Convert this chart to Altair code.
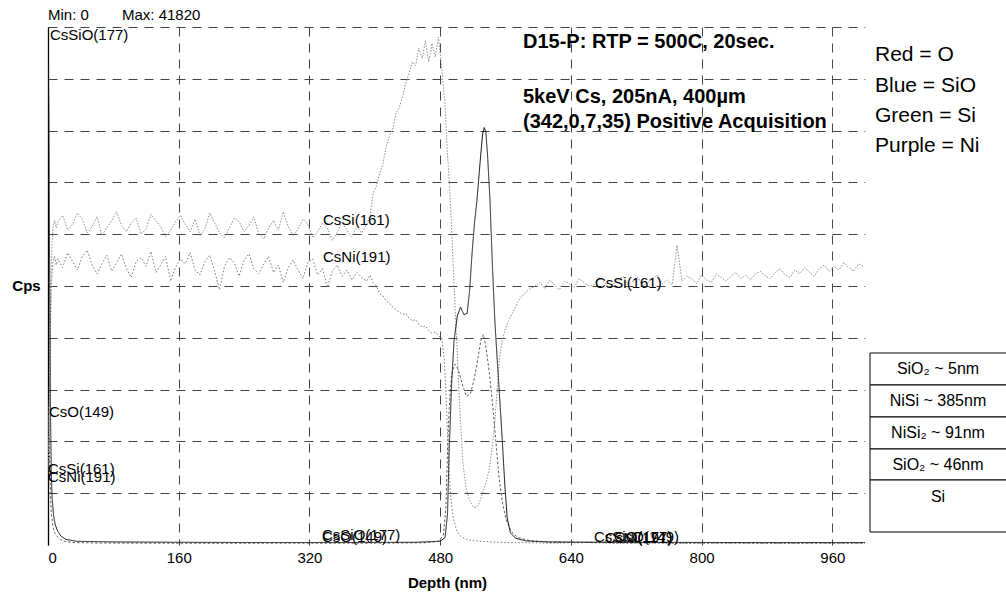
import altair as alt
import pandas as pd

FONT = "Liberation Sans"
Y_MAX = 41820
W, H = 817, 518
LEFT, TOP = 48, 27

# ---------------- depth grids (nm) ----------------
surf_depth = [0, 1, 2, 3, 4, 5, 6, 8, 10]
nisi_depth = list(range(12, 391, 6))        # NiSi layer cycles
nisi2_depth = list(range(394, 483, 4))      # NiSi2 layer cycles
sub_depth = list(range(596, 999, 6))        # Si substrate cycles

# ---------------- CsSi(161) ----------------
cssi_surf = [6000, 9000, 14000, 19000, 22500, 24500, 25600, 26200, 25600]
cssi_nisi = [26100, 26600, 25400, 25900, 26800, 26300, 25200, 25700, 26500, 25000,
             25600, 26200, 26900, 25800, 25300, 26000, 26400, 25100, 25500, 26700,
             26200, 25700, 24900, 25400, 26100, 26600, 25900, 25300, 26300, 25000,
             25500, 26800, 26000, 25200, 24800, 25600, 26400, 26100, 25300, 25800,
             26500, 25100, 24700, 25600, 26200, 25400, 26900, 25700, 25000, 25500,
             26300, 25900, 24800, 25300, 26000, 25600, 24600, 25200, 26100, 25400,
             24900, 25700, 25200, 25900]
cssi_nisi2 = [26500, 28400, 29000, 30000, 30800, 32200, 33000, 33600, 34900, 35300,
              36200, 37300, 38100, 39000, 38700, 40100, 39300, 40700, 39000, 40500,
              39400, 41000, 38500]
cssi_ox_depth = [486, 489, 492, 495, 498, 501, 504, 508, 512, 516, 520, 524, 528, 532,
                 536, 540, 544, 547, 550, 553, 556, 560, 565, 570, 575, 580, 585, 590]
cssi_ox = [35500, 31500, 28500, 24000, 19500, 15500, 11000, 6500, 4500, 3600, 3100, 3000,
           3400, 4200, 5000, 6100, 8000, 10000, 12800, 15300, 16500, 17500, 18300, 18900,
           19600, 20100, 20400, 20700]
cssi_sub = [20900, 21200, 20700, 21400, 21000, 20600, 21300, 21100, 20800, 21500,
            21200, 20900, 21000, 21600, 21300, 20800, 21100, 21400, 21700, 21000,
            21300, 21600, 20900, 21200, 21500, 21800, 21100, 21400, 21000, 24200,
            21300, 21700, 21500, 21100, 21800, 21400, 21200, 21900, 21600, 21300,
            21700, 22000, 21500, 21800, 21400, 21900, 22100, 21700, 21500, 22000,
            22300, 21800, 21600, 22200, 21900, 22400, 22000, 21700, 22300, 22600,
            22100, 22500, 22200, 22800, 22400, 22100, 22700, 22500]

# ---------------- CsNi(191) ----------------
csni_surf = [5800, 8500, 13000, 17500, 20500, 22000, 22800, 23300, 22600]
csni_nisi = [23100, 22400, 23600, 22900, 22200, 23300, 23800, 22600, 21900, 22700,
             23400, 22100, 22800, 23500, 22300, 21600, 22900, 23200, 22500, 23700,
             22000, 22600, 23300, 21300, 22400, 23100, 22700, 23600, 22200, 21800,
             22900, 23400, 22100, 20600, 22500, 23200, 22800, 21700, 23000, 23500,
             22300, 21900, 22700, 23300, 22000, 22600, 21200, 22400, 23000, 22200,
             21500, 22800, 23100, 21800, 22300, 20800, 22100, 22600, 21700, 22200,
             21400, 22000, 21600, 21300]
csni_nisi2 = [21800, 21200, 20900, 20300, 20100, 19700, 19500, 19200, 19000, 18800,
              18600, 18700, 18300, 18100, 18200, 17800, 17600, 17700, 17300, 17100,
              17200, 16900, 16700]
csni_tail_depth = [485, 487, 489, 491, 493, 496, 500, 505, 512, 520, 530, 545, 560,
                   580, 620, 660, 700, 740, 780, 820, 860, 900, 940, 980, 1000]
csni_tail = [15000, 12500, 9000, 6000, 3800, 2200, 1200, 700, 450, 350, 300, 250, 200,
             180, 150, 200, 140, 170, 130, 160, 150, 120, 170, 140, 160]

# ---------------- CsO(149) ----------------
cso_depth = [0, 1, 2, 3, 4, 6, 8, 11, 15, 20, 30, 60, 120, 200, 300, 400, 460, 478, 484,
             487, 489, 491, 494, 498, 502, 507, 512, 517, 522, 526, 530, 533, 536, 540,
             544, 548, 552, 556, 561, 567, 575, 590, 620, 700, 800, 900, 1000]
cso = [11200, 9800, 7000, 4200, 2600, 1500, 1000, 700, 450, 300, 200, 160, 150, 140, 150,
       150, 180, 300, 800, 3000, 7500, 11000, 13800, 14600, 14200, 13000, 12000, 12200,
       13500, 15000, 16600, 17000, 16000, 14000, 11500, 8500, 5500, 3500, 2000, 1100, 600,
       350, 220, 180, 160, 150, 150]

# ---------------- CsSiO(177) ----------------
cssio_depth = [0, 1, 2, 3, 4, 5, 7, 9, 12, 16, 22, 35, 80, 160, 250, 350, 450, 480, 486,
               489, 491, 494, 497, 501, 505, 509, 513, 516, 519, 522, 525, 529, 532, 534,
               536, 538, 541, 544, 547, 550, 553, 556, 559, 562, 566, 572, 585, 610, 700,
               850, 1000]
cssio = [41700, 35000, 22000, 11000, 6000, 3800, 2300, 1600, 1100, 700, 450, 300, 250,
         220, 200, 200, 220, 300, 600, 2500, 7500, 13000, 16500, 18500, 19200, 18600,
         18700, 20500, 23500, 26000, 27800, 31000, 33200, 33700, 33300, 31500, 27800,
         22500, 18000, 14800, 11700, 8500, 5000, 2200, 1000, 550, 330, 250, 220, 200, 200]

species = ["CsSi(161)", "CsNi(191)", "CsO(149)", "CsSiO(177)"]


def series(name, depth, values):
    return pd.DataFrame({"species": name, "depth": depth, "cps": values})


profile = pd.concat([
    series("CsSi(161)", surf_depth + nisi_depth + nisi2_depth + cssi_ox_depth + sub_depth,
           cssi_surf + cssi_nisi + cssi_nisi2 + cssi_ox + cssi_sub),
    series("CsNi(191)", surf_depth + nisi_depth + nisi2_depth + csni_tail_depth,
           csni_surf + csni_nisi + csni_nisi2 + csni_tail),
    series("CsO(149)", cso_depth, cso),
    series("CsSiO(177)", cssio_depth, cssio),
], ignore_index=True)

grid_style = dict(grid=True, gridDash=[9, 7], gridColor="#444444", gridWidth=1)

curves = alt.Chart(profile).mark_line(strokeWidth=1, clip=True).encode(
    x=alt.X("depth:Q",
            scale=alt.Scale(domain=[0, 1000], nice=False, zero=True),
            axis=alt.Axis(values=[0, 160, 320, 480, 640, 800, 960], title="Depth (nm)",
                          ticks=False, domain=False, labelFontSize=15, labelPadding=5,
                          labelFont=FONT, labelColor="black", titleFont=FONT,
                          titleFontSize=15, titleFontWeight="bold", titleColor="black",
                          titleX=399, titleY=37, titleBaseline="middle",
                          titleAnchor="start", titleAlign="center", **grid_style)),
    y=alt.Y("cps:Q",
            scale=alt.Scale(domain=[0, Y_MAX], nice=False),
            axis=alt.Axis(values=[4182 * i for i in range(1, 11)], labels=False,
                          ticks=False, domain=True, domainColor="black", domainWidth=1.3,
                          title="Cps", titleAngle=0, titleX=-22, titleY=258,
                          titleAlign="center", titleBaseline="middle", titleFont=FONT,
                          titleFontSize=15, titleFontWeight="bold", titleColor="black",
                          **grid_style)),
    color=alt.Color("species:N", legend=None,
                    scale=alt.Scale(domain=species,
                                    range=["#909090", "#787878", "#5e5e5e", "#111111"])),
    strokeDash=alt.StrokeDash("species:N", legend=None,
                              scale=alt.Scale(domain=species,
                                              range=[[1.5, 1.5], [1.5, 2], [2.5, 2], [1, 0]])),
    detail="species:N",
)

anchor = pd.DataFrame({"n": [0]})


def note(text, px, py, size=15, weight="normal", align="left"):
    return alt.Chart(anchor).mark_text(
        text=text, font=FONT, fontSize=size, fontWeight=weight, align=align,
        baseline="middle", color="black"
    ).encode(x=alt.value(px - LEFT), y=alt.value(py - TOP))


def cell(px1, py1, px2, py2):
    return alt.Chart(anchor).mark_rect(fill="white", stroke="black", strokeWidth=1).encode(
        x=alt.value(px1 - LEFT), x2=alt.value(px2 - LEFT),
        y=alt.value(py1 - TOP), y2=alt.value(py2 - TOP))


labels = [
    note("Min: 0", 48, 15), note("Max: 41820", 122, 15),
    note("CsSiO(177)", 50, 35),
    note("CsO(149)", 49, 412),
    note("CsSi(161)", 48, 469), note("CsNi(191)", 48, 477),
    note("CsSi(161)", 323, 220), note("CsNi(191)", 323, 257),
    note("CsSiO(177)", 322, 535), note("CsO(149)", 322, 537),
    note("CsSi(161)", 595, 283),
    note("CsSiO(177)", 594, 537), note("CsNi(191)", 605, 538), note("CsO(149)", 614, 537),
    note("D15-P: RTP = 500C, 20sec.", 523, 42, 20, "bold"),
    note("5keV Cs, 205nA, 400µm", 523, 97, 20, "bold"),
    note("(342,0,7,35) Positive Acquisition", 523, 122, 20, "bold"),
    note("Red = O", 875, 55, 21), note("Blue = SiO", 875, 86, 21),
    note("Green = Si", 875, 116, 21), note("Purple = Ni", 875, 146, 21),
]

rows = [(353, 385, "SiO₂ ~ 5nm"), (385, 417, "NiSi ~ 385nm"), (417, 449, "NiSi₂ ~ 91nm"),
        (449, 480, "SiO₂ ~ 46nm")]
table = []
for top, bottom, txt in rows:
    table.append(cell(870, top, 1012, bottom))
    table.append(note(txt, 938, (top + bottom) / 2, 16, "normal", "center"))
table.append(cell(870, 480, 1012, 532))
table.append(note("Si", 938, 497, 16, "normal", "center"))

chart = alt.layer(curves, *labels, *table).properties(
    width=W, height=H,
    autosize=alt.AutoSizeParams(type="none"),
    padding={"left": LEFT, "top": TOP, "right": 1006 - LEFT - W, "bottom": 592 - TOP - H},
    background="white",
).configure_view(stroke=None)

chart.save("out.html", embed_options={"renderer": "svg", "actions": False})
